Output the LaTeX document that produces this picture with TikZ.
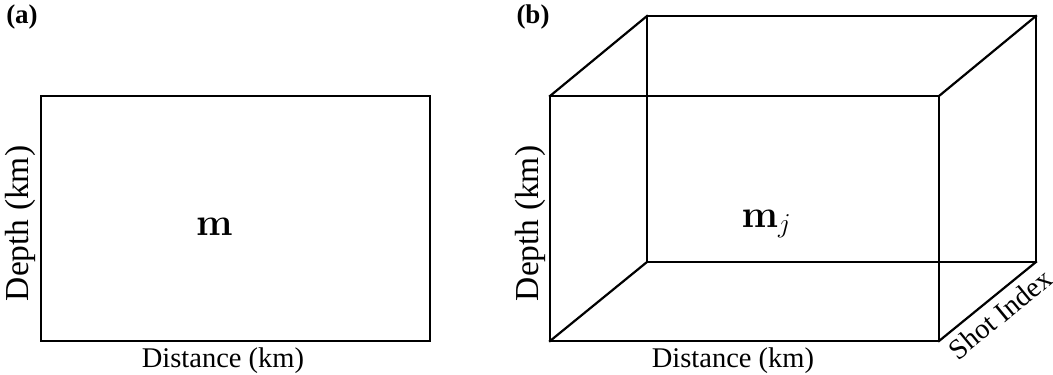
\RequirePackage{fix-cm}
\documentclass[tikz,border=0pt]{standalone}
\usepackage[no-math]{fontspec}
\setmainfont{Liberation Serif}
\begin{document}
\begin{tikzpicture}[x=1pt,y=-1pt,
  box/.style={line width=2.2pt, line join=miter, line cap=rect},
  lab/.style={font=\fontsize{28.5}{33}\selectfont, inner sep=0pt},
  vlab/.style={font=\fontsize{33.5}{38}\selectfont, inner sep=0pt, rotate=90},
  panel/.style={font=\fontsize{27}{32}\selectfont\bfseries, inner sep=0pt},
  sym/.style={font=\fontsize{39}{46}\selectfont, inner sep=0pt}]
\useasboundingbox (0,0) rectangle (1053,375);
% panel (a)
\coordinate (a1) at (41,96);
\coordinate (a2) at (430,96);
\coordinate (a3) at (430,341);
\coordinate (a4) at (41,341);
\draw[box] (a1) -- (a2) -- (a3) -- (a4) -- cycle;
\node[panel] (pa) at (22,17) {(a)};
\node[sym, anchor=base] (ma) at (214.5,235) {$\mathbf{m}$};
\node[lab, anchor=base] (xa) at (223,367) {Distance (km)};
\node[vlab] (ya) at (20,223.5) {Depth (km)};
% panel (b)
\coordinate (f1) at (550,96);
\coordinate (f2) at (939,96);
\coordinate (f3) at (939,341);
\coordinate (f4) at (550,341);
\coordinate (b1) at (647,16);
\coordinate (b2) at (1036,16);
\coordinate (b3) at (1036,262);
\coordinate (b4) at (647,262);
\draw[box] (f1) -- (f2) -- (f3) -- (f4) -- cycle;
\draw[box] (b1) -- (b2) -- (b3) -- (b4) -- cycle;
\draw[box] (f1) -- (b1);
\draw[box] (f2) -- (b2);
\draw[box] (f3) -- (b3);
\draw[box] (f4) -- (b4);
\node[panel] (pb) at (533,17) {(b)};
\node[sym, anchor=base] (mb) at (766.5,227) {$\mathbf{m}_j$};
\node[lab, anchor=base] (xb) at (733,367) {Distance (km)};
\node[vlab] (yb) at (530,223.5) {Depth (km)};
\node[lab, rotate=39.5] (zb) at (1000,314) {Shot Index};
\end{tikzpicture}
\end{document}
